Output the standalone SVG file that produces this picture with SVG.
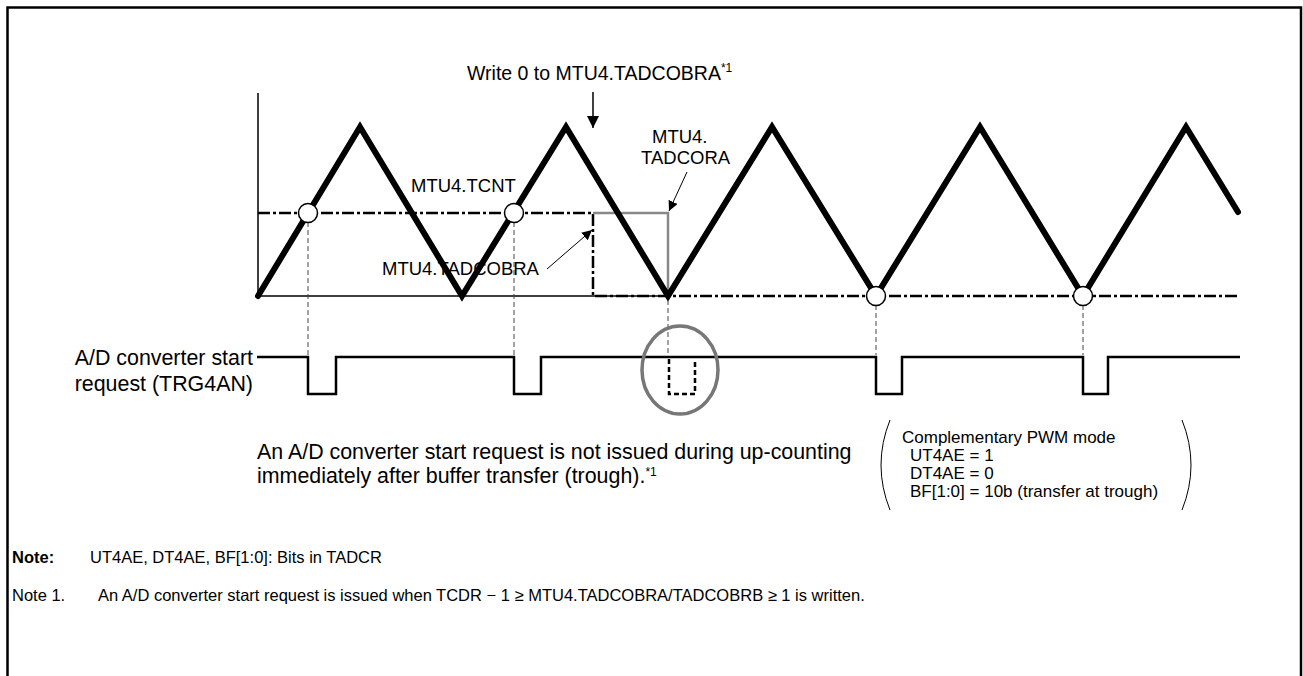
<svg xmlns="http://www.w3.org/2000/svg" width="1303" height="676" viewBox="0 0 1303 676">
<defs>
<style>
.t{font-family:"Liberation Sans",Arial,sans-serif;fill:#000}
.lbl{font-size:18.5px}
.big{font-size:21.4px}
.sm{font-size:17px}
.note{font-size:16.5px}
.thin{fill:none;stroke:#000;stroke-width:1.5}
.dd{fill:none;stroke:#000;stroke-width:2.5;stroke-dasharray:12 3 3 3}
.vd{fill:none;stroke:#444;stroke-width:1;stroke-dasharray:5 3}
.sig{fill:none;stroke:#000;stroke-width:2.5}
.pt{fill:#fff;stroke:#000;stroke-width:1.5}
</style>
<marker id="ah" viewBox="0 0 10 10" refX="10" refY="5" markerWidth="10" markerHeight="10" markerUnits="userSpaceOnUse" orient="auto">
<path d="M0,0 L10,5 L0,10 z" fill="#000"/>
</marker>
<marker id="ahb" viewBox="0 0 10 10" refX="10" refY="5" markerWidth="12" markerHeight="12" markerUnits="userSpaceOnUse" orient="auto">
<path d="M0,0 L10,5 L0,10 z" fill="#000"/>
</marker>
</defs>
<rect width="1303" height="676" fill="#fff"/>
<path d="M7.5,676 V7.5 H1301 V676" fill="none" stroke="#000" stroke-width="2.5"/>

<g id="axes">
<path class="thin" d="M258,93 V296 H668"/>
</g>

<g id="levels">
<path class="dd" d="M258,213 H593 V296 H1238"/>
<path d="M593,213 H668 V296" fill="none" stroke="#888" stroke-width="2.5"/>
</g>

<g id="tcnt">
<path d="M258,296 L360,127 L462,296 L566,127 L668,296 L772,127 L876,296 L980,127 L1083,296 L1186,127 L1238,212" fill="none" stroke="#000" stroke-width="6" stroke-linecap="round" stroke-linejoin="miter"/>
</g>

<g id="connectors">
<path class="vd" d="M308,222 V355 M514,222 V355 M668,300 V357 M876,305 V355 M1083,305 V355"/>
<line x1="593" y1="92" x2="593" y2="128" stroke="#000" stroke-width="1.5" marker-end="url(#ahb)"/>
<line x1="547" y1="269" x2="592" y2="230" stroke="#000" stroke-width="1" marker-end="url(#ah)"/>
<line x1="687" y1="172" x2="669" y2="211" stroke="#000" stroke-width="1" marker-end="url(#ah)"/>
</g>

<g id="points">
<circle class="pt" cx="308" cy="213" r="9.5"/>
<circle class="pt" cx="514" cy="213" r="9.5"/>
<circle class="pt" cx="876" cy="296" r="9.5"/>
<circle class="pt" cx="1083" cy="296" r="9.5"/>
</g>

<g id="trg4an">
<path class="sig" d="M257,357 H308 V394 H336 V357 H514 V394 H541 V357 H876 V394 H902 V357 H1083 V394 H1108 V357 H1240"/>
<path d="M669,359 V394 H695 V359" fill="none" stroke="#000" stroke-width="2.5" stroke-dasharray="5 3"/>
<ellipse cx="680" cy="370" rx="38" ry="44" fill="none" stroke="#777" stroke-width="3.5"/>
</g>

<g id="labels">
<text class="t" font-size="19.5" x="467" y="80">Write 0 to MTU4.TADCOBRA<tspan font-size="12" dy="-8">*1</tspan></text>
<text class="t lbl" x="652" y="143">MTU4.</text>
<text class="t lbl" x="641" y="164">TADCORA</text>
<text class="t lbl" x="411" y="192">MTU4.TCNT</text>
<text class="t lbl" x="382" y="275">MTU4.TADCOBRA</text>
<text class="t big" x="253" y="365" text-anchor="end">A/D converter start</text>
<text class="t big" x="253" y="391" text-anchor="end">request (TRG4AN)</text>
<text class="t big" x="257" y="459">An A/D converter start request is not issued during up-counting</text>
<text class="t big" x="257" y="483">immediately after buffer transfer (trough).<tspan font-size="12" dy="-7">*1</tspan></text>
</g>

<g id="conditions">
<path d="M890,420 Q872,465 890,510" fill="none" stroke="#000" stroke-width="1"/>
<path d="M1182,420 Q1200,465 1182,510" fill="none" stroke="#000" stroke-width="1"/>
<text class="t sm" x="902" y="443">Complementary PWM mode</text>
<text class="t sm" x="910" y="461">UT4AE = 1</text>
<text class="t sm" x="910" y="479">DT4AE = 0</text>
<text class="t sm" x="910" y="497">BF[1:0] = 10b (transfer at trough)</text>
</g>

<g id="notes">
<text class="t note" x="12" y="563" font-weight="bold">Note:</text>
<text class="t note" x="90" y="563">UT4AE, DT4AE, BF[1:0]: Bits in TADCR</text>
<text class="t note" x="12" y="601">Note 1.</text>
<text class="t note" x="98" y="601">An A/D converter start request is issued when TCDR − 1 ≥ MTU4.TADCOBRA/TADCOBRB ≥ 1 is written.</text>
</g>
</svg>
